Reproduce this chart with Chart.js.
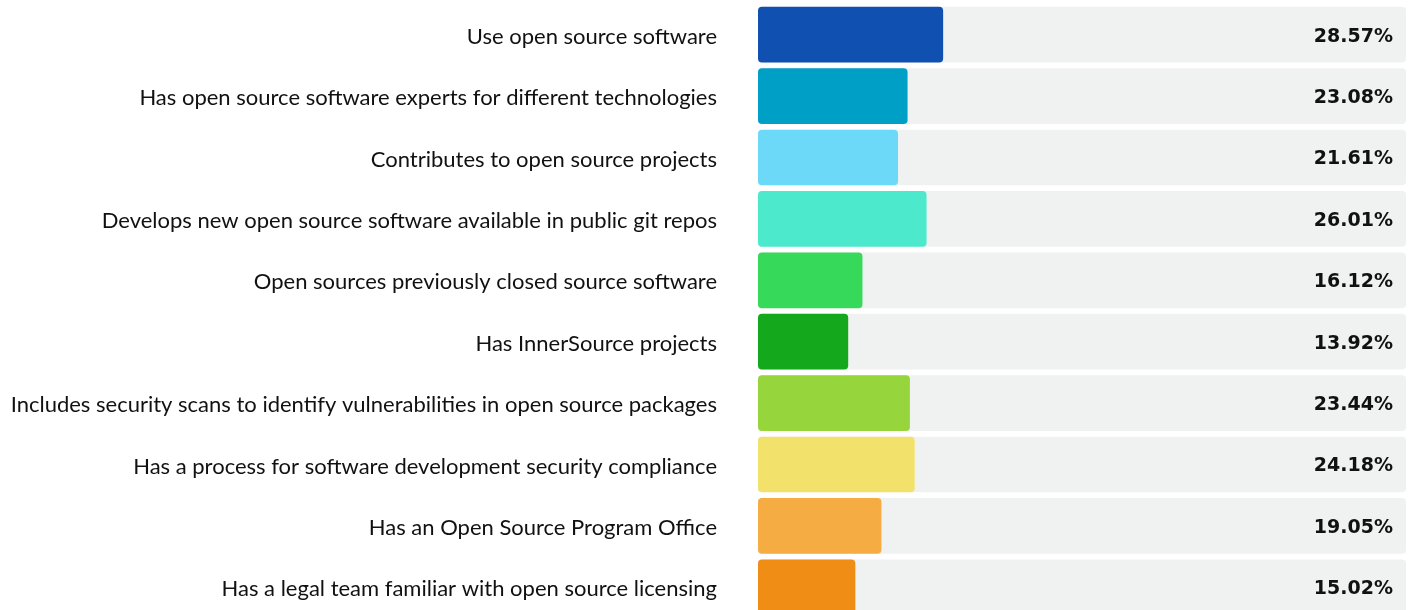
<!DOCTYPE html>
<html><head><meta charset="utf-8">
<script src="https://cdn.jsdelivr.net/npm/chart.js@4/dist/chart.umd.min.js"></script>
<style>
html,body{margin:0;padding:0;background:#fff;overflow:hidden;}
canvas{display:block;}
</style></head><body>
<canvas id="c" width="1416" height="621"></canvas>
<script>
const categories = [
  "Use open source software",
  "Has open source software experts for different technologies",
  "Contributes to open source projects",
  "Develops new open source software available in public git repos",
  "Open sources previously closed source software",
  "Has InnerSource projects",
  "Includes security scans to identify vulnerabilities in open source packages",
  "Has a process for software development security compliance",
  "Has an Open Source Program Office",
  "Has a legal team familiar with open source licensing"
];
const values = [28.57, 23.08, 21.61, 26.01, 16.12, 13.92, 23.44, 24.18, 19.05, 15.02];
const trackValues = [100, 100, 100, 100, 100, 100, 100, 100, 100, 100];
const barColors = ["#1050b0","#00a0c6","#6dd9f9","#4de9cd","#36d95a","#14a81d","#96d63c","#f2e16a","#f5ad43","#f08d15"];
const trackColor = "#f0f1f1";

const valueLabels = {
  id: 'valueLabels',
  afterDatasetsDraw(chart) {
    const ctx = chart.ctx;
    const meta = chart.getDatasetMeta(0);
    const xs = chart.scales.x;
    ctx.save();
    ctx.font = "bold 19px 'DejaVu Sans', sans-serif";
    ctx.fillStyle = "#111111";
    ctx.textAlign = "right";
    ctx.textBaseline = "middle";
    meta.data.forEach((bar, i) => {
      ctx.fillText(values[i].toFixed(2) + "%", xs.getPixelForValue(100) - 13, bar.y + 2);
    });
    ctx.restore();
  }
};

new Chart(document.getElementById('c'), {
  type: 'bar',
  data: {
    labels: categories,
    datasets: [
      { data: values, backgroundColor: barColors, borderRadius: 4, borderSkipped: false, grouped: false, categoryPercentage: 0.907, barPercentage: 1 },
      { data: trackValues, backgroundColor: trackColor, borderRadius: 4, borderSkipped: false, grouped: false, categoryPercentage: 0.907, barPercentage: 1 }
    ]
  },
  options: {
    indexAxis: 'y',
    responsive: false,
    maintainAspectRatio: false,
    animation: false,
    layout: { padding: { top: 4, right: 10, bottom: 3, left: 0 } },
    plugins: { legend: { display: false }, tooltip: { enabled: false } },
    scales: {
      x: { display: false, min: 0, max: 100 },
      y: {
        grid: { display: false, drawTicks: false }, border: { display: false },
        ticks: { color: "#111111", padding: 41, labelOffset: 2, autoSkip: false, font: { family: "Lato, sans-serif", size: 22 } },
        afterFit(scale) { scale.width = 758; scale.paddingTop = 0; scale.paddingBottom = 0; }
      }
    }
  },
  plugins: [valueLabels]
});
</script>
</body></html>
